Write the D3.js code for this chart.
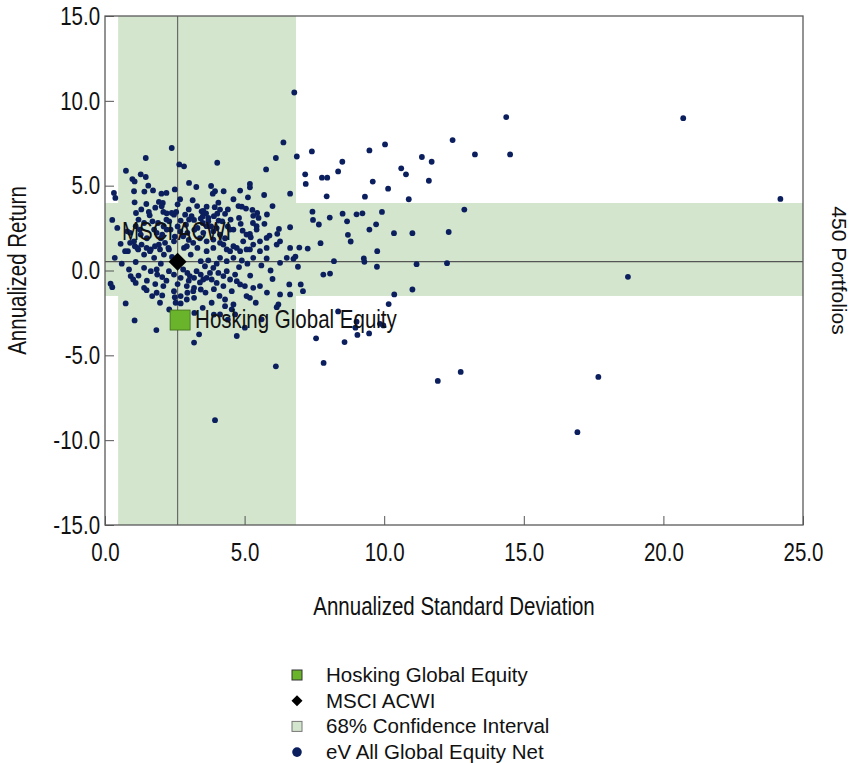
<!DOCTYPE html>
<html><head><meta charset="utf-8">
<script src="https://cdn.jsdelivr.net/npm/d3@7"></script>
<style>body{margin:0;background:#fff}svg{display:block}</style>
</head><body>
<svg id="chart" width="850" height="763"></svg>
<script>
const xTicks = [0, 5, 10, 15, 20, 25];
const yTicks = [-15, -10, -5, 0, 5, 10, 15];
const ciStdDev = [0.47, 6.84];
const ciReturn = [-1.5, 3.98];
const benchmark = { name: "MSCI ACWI", sd: 2.6, ret: 0.52 };
const manager = { name: "Hosking Global Equity", sd: 2.69, ret: -2.92 };
const legendLabels = ["Hosking Global Equity", "MSCI ACWI", "68% Confidence Interval", "eV All Global Equity Net"];
const universeLabel = "450 Portfolios";
const xTitle = "Annualized Standard Deviation";
const yTitle = "Annualized Return";
const peerPoints = [
[14.37,9.04],[20.71,8.98],[10.03,7.43],[12.45,7.69],[11.35,6.69],[11.70,6.41],[13.25,6.84],[14.51,6.84],[10.61,6.02],[10.78,5.67],[11.60,5.29],[10.14,4.82],[10.88,4.20],[24.19,4.22],[9.92,3.45],[12.87,3.59],[10.35,2.20],[11.01,2.20],[12.31,2.27],[11.16,0.37],[12.25,0.43],[18.73,-0.37],[11.01,-1.12],[10.36,-1.41],[10.16,-1.98],[9.97,-3.24],[11.92,-6.51],[12.74,-5.98],[17.67,-6.27],[16.92,-9.53],
[6.78,10.49],[6.87,6.72],[7.41,7.02],[7.17,5.67],[7.19,5.10],[7.77,5.47],[7.96,5.47],[7.94,4.37],[8.35,5.84],[8.50,6.41],[9.47,7.08],[9.59,5.24],[9.31,4.35],[6.63,4.53],
[7.43,3.47],[7.45,2.98],[7.66,2.71],[8.05,3.12],[8.51,3.35],[8.67,2.90],[9.01,3.31],[9.22,3.37],[9.71,2.72],[9.47,2.41],[8.70,2.10],[6.63,2.55],
[6.96,1.35],[7.26,1.29],[7.72,1.61],[8.80,1.71],[9.75,1.14],[6.75,0.69],[6.82,0.82],[6.91,0.22],[8.20,0.55],[9.27,0.71],[9.29,0.51],[9.74,0.22],[7.82,-0.24],[8.06,-0.18],[7.01,-0.82],[7.09,-1.22],[6.63,-1.41],[8.35,-2.41],[9.01,-3.02],[8.97,-3.37],[9.04,-3.80],[9.46,-3.71],[9.85,-3.14],[7.56,-4.00],[8.58,-4.22],[7.83,-5.45],
[2.39,7.22],[1.46,6.63],[2.66,6.25],[2.83,6.14],[0.75,5.88],[1.28,5.67],[1.46,5.51],[0.98,5.39],[1.06,5.25],[1.55,5.00],[3.01,5.16],[3.27,4.92],[1.72,4.72],[1.04,4.67],[1.41,4.65],[2.02,4.53],[2.20,4.57],[2.50,4.78],[0.32,4.57],[0.37,4.28],[2.69,4.20],[3.14,4.14],[1.93,4.04],[2.07,3.98],[1.06,4.02],[1.48,3.92],[1.57,3.45],[1.60,3.25],[1.11,3.39],[2.09,3.45],[2.21,3.37],[2.47,3.29],[2.55,3.45],[2.87,3.29],[3.46,3.49],[0.26,2.98],[2.71,2.94],[3.01,3.00],[3.19,2.98],[3.43,3.06],
[6.39,7.55],[6.12,6.63],[4.02,6.35],[5.77,5.96],[5.19,5.10],[5.19,4.90],[3.80,4.98],[3.94,4.67],[3.86,4.53],[4.25,4.67],[4.84,4.71],[5.12,4.31],[4.06,4.00],[3.64,3.76],[3.93,3.73],[4.12,3.59],[3.52,3.51],[3.62,3.37],[4.02,3.35],[4.30,3.34],[4.78,3.80],[4.90,3.76],[5.05,3.65],[5.28,3.57],[5.45,3.39],[5.31,3.22],[5.50,3.10],[5.71,2.75],[6.23,2.45],[6.17,2.16],[5.89,2.06],[4.86,2.75],[4.60,2.41],[4.93,2.35],[5.19,2.16],[5.22,1.96],[4.07,2.94],[3.50,3.19],[5.70,4.45],
[0.35,0.75],[0.56,1.57],[0.82,1.14],[1.04,1.72],[1.16,1.33],[1.40,0.94],[1.64,1.24],[1.76,0.75],[1.93,1.53],[2.11,0.94],[2.29,1.24],[2.47,1.72],[2.83,1.33],[3.07,0.94],[3.31,1.33],[3.43,0.55],[0.86,0.06],[0.92,-0.33],[1.10,-0.73],[1.40,0.16],[1.64,-0.04],[1.87,-0.24],[2.05,-0.39],[2.29,-0.04],[2.47,-0.24],[2.71,-0.43],[2.95,-0.14],[3.19,-0.43],[3.43,-0.24],[0.20,-0.78],[0.26,-0.98],[1.40,-1.02],[1.49,-1.16],[1.69,-1.51],[2.05,-1.47],[1.97,-1.90],[2.47,-1.22],[2.50,-1.57],[2.71,-1.51],[2.95,-1.31],[2.93,-1.71],[3.19,-1.02],[3.43,-1.12],[3.19,-1.61],[2.53,-1.90],[2.71,-1.94],[0.74,-1.94],[1.06,-2.94],[1.84,-3.51],[3.19,-4.25],[3.37,-3.76],
[3.64,1.72],[3.88,1.33],[4.24,1.53],[4.48,1.14],[4.72,1.33],[4.95,1.72],[5.19,1.24],[5.55,1.72],[5.79,1.33],[6.27,1.72],[6.63,1.33],[4.12,0.75],[4.36,0.55],[4.60,0.75],[4.90,0.59],[5.31,0.75],[5.79,0.71],[6.27,0.45],[6.51,0.75],[3.58,0.25],[3.88,0.16],[4.06,-0.14],[4.36,-0.04],[5.93,0.00],[3.64,-0.43],[3.82,-0.53],[4.24,-0.92],[4.54,-1.22],[4.66,-0.24],[4.72,-0.63],[4.84,-0.82],[5.01,-0.92],[5.31,-1.02],[5.55,-0.92],[5.07,-1.51],[5.19,-1.61],[4.30,-1.71],[6.27,-1.41],[6.60,-0.82],[6.21,-2.00],[6.15,-2.16],[3.82,-1.90],[4.30,-2.10],[4.60,-2.00],[4.54,-2.29],[4.66,-2.59],[4.12,-2.59],[4.72,-3.86],[5.01,-3.37],[5.61,-2.88],
[3.94,-8.82],[6.12,-5.65],
[2.03,3.78],[2.39,3.39],[0.90,1.63],[1.07,1.43],[1.19,1.24],[1.31,1.53],[1.49,1.33],[1.61,1.14],[1.79,1.43],[1.97,1.24],[2.15,1.63],[2.27,1.33],[0.72,1.14],
[2.93,1.43],[3.16,1.63],[3.64,1.14],[4.12,1.63],[4.36,1.24],[4.60,1.43],[4.84,1.14],[5.07,1.24],[5.31,1.53],[5.55,1.14],[6.15,1.53],
[1.85,2.22],[2.21,2.41],[2.80,2.02],[3.52,2.22],[3.88,1.82],[4.48,2.41],[5.07,2.12],[5.43,2.41],[5.79,1.92],[0.90,2.22],[1.25,2.41],
[1.85,0.06],[2.80,0.06],[3.04,-0.33],[3.28,-0.04],[3.52,-0.53],[3.76,-0.14],[4.00,-0.73],[4.24,-0.33],[4.48,-0.53],[2.93,-0.92],[3.16,-1.22],[2.09,-0.92],[1.85,-1.31],[1.01,-0.53],
[0.44,2.51],[0.80,2.31],[1.10,2.61],[1.28,2.12],[1.76,2.41],[2.05,2.12],[2.35,2.41],[2.95,2.22],[3.31,2.51],[3.64,2.61],[3.88,2.31],[4.12,2.12],[5.43,2.61],
[1.90,2.80],[2.30,2.90],[2.60,2.60],[2.90,2.70],[3.20,2.40],[3.50,2.80],[3.80,2.60],[4.20,2.90],[4.50,3.00],[1.70,2.90],[2.50,2.00],[3.00,1.80],[3.40,1.90],[2.00,1.90],[1.50,1.90],[4.30,1.90],[3.70,3.10],[2.20,3.00],
[1.30,3.60],[1.80,3.70],[2.60,3.90],[3.00,3.60],[3.30,3.80],[3.90,3.20],[4.40,3.60],[4.60,4.20],[1.20,3.00],[1.40,2.80],[2.10,2.60],[2.70,2.30],[3.10,3.20],[3.70,2.90],[4.00,2.50],[4.40,2.60],[4.80,3.10],[5.30,2.80],[5.80,3.30],[6.00,3.80],
[1.20,-0.30],[1.50,-0.60],[1.80,-0.80],[2.20,-0.60],[2.60,-0.80],[3.00,-0.60],[3.40,-0.70],[3.60,-1.30],[3.90,-1.10],[4.10,-1.50],[3.50,-2.20],[3.90,-2.60],[4.40,-2.90],[5.40,-1.90],[5.80,-1.30],[6.00,-0.50],[5.20,-0.30],[5.60,0.30],[3.20,-2.50],[2.30,-2.30],
[0.60,0.40],[1.10,0.50],[2.00,0.40],[2.40,0.80],[3.70,0.60],[4.00,0.40],[4.80,0.20],[5.10,0.40]
];

const L = 105, R = 803, T = 16, B = 525;
const NARROW = 0.82;
const FONT = "'Liberation Sans', Arial, sans-serif";
const x = d3.scaleLinear().domain([0, 25]).range([L, R]);
const y = d3.scaleLinear().domain([-15, 15]).range([B, T]);
const svg = d3.select("#chart").style("font-family", FONT);
const band = "#d3e5cd", navy = "#0b1f5e", green = "#6ab42c";
const fmt = d => d.toFixed(1);

// confidence bands
svg.append("rect").attr("x", x(ciStdDev[0])).attr("y", T)
  .attr("width", x(ciStdDev[1]) - x(ciStdDev[0])).attr("height", B - T).attr("fill", band);
svg.append("rect").attr("x", L).attr("y", y(ciReturn[1]))
  .attr("width", R - L).attr("height", y(ciReturn[0]) - y(ciReturn[1])).attr("fill", band);

// benchmark crosshair
svg.append("line").attr("x1", x(benchmark.sd)).attr("x2", x(benchmark.sd)).attr("y1", T).attr("y2", B)
  .attr("stroke", "#6b6b6b").attr("stroke-width", 1.2);
svg.append("line").attr("x1", L).attr("x2", R).attr("y1", y(benchmark.ret)).attr("y2", y(benchmark.ret))
  .attr("stroke", "#555").attr("stroke-width", 1.2);

// peers
svg.append("g").selectAll("circle").data(peerPoints).join("circle")
  .attr("cx", d => x(d[0])).attr("cy", d => y(d[1])).attr("r", 2.9).attr("fill", navy);

// axes
const xAxis = svg.append("g").attr("transform", `translate(0,${B})`)
  .call(d3.axisBottom(x).tickValues(xTicks).tickSizeInner(-9).tickSizeOuter(0).tickPadding(18).tickFormat(fmt));
const yAxis = svg.append("g").attr("transform", `translate(${L},0)`)
  .call(d3.axisLeft(y).tickValues(yTicks).tickSizeInner(-9).tickSizeOuter(0).tickPadding(6).tickFormat(fmt));
[xAxis, yAxis].forEach(g => {
  g.select(".domain").remove();
  g.selectAll(".tick line").attr("stroke", "#555");
  g.selectAll(".tick text").attr("font-size", 25).attr("font-family", FONT).attr("fill", "#111")
    .attr("transform", `scale(${NARROW},1)`);
});
yAxis.selectAll(".tick text").attr("dy", "0.33em");

// frame
svg.append("rect").attr("x", L).attr("y", T).attr("width", R - L).attr("height", B - T)
  .attr("fill", "none").attr("stroke", "#5a5a5a").attr("stroke-width", 1.3);

// manager & benchmark markers
const ds = 9;
svg.append("path").attr("d", `M0,${-ds}L${ds},0L0,${ds}L${-ds},0Z`)
  .attr("transform", `translate(${x(benchmark.sd)},${y(benchmark.ret)})`).attr("fill", "#000");
svg.append("rect").attr("x", x(manager.sd) - 10).attr("y", y(manager.ret) - 10).attr("width", 20).attr("height", 20)
  .attr("fill", green).attr("stroke", "#3d6b1a").attr("stroke-width", 0.8);

// point labels
svg.append("text").text(benchmark.name).attr("text-anchor", "middle").attr("font-size", 25).attr("fill", "#111")
  .attr("transform", `translate(${x(benchmark.sd) - 1},${y(benchmark.ret) - 22}) scale(${NARROW},1)`);
svg.append("text").text(manager.name).attr("font-size", 25).attr("fill", "#111")
  .attr("transform", `translate(${x(manager.sd) + 15},${y(manager.ret) + 8}) scale(${NARROW},1)`);

// titles
svg.append("text").text(xTitle).attr("text-anchor", "middle").attr("font-size", 25).attr("fill", "#111")
  .attr("transform", `translate(${(L + R) / 2},615) scale(${NARROW},1)`);
svg.append("text").text(yTitle).attr("text-anchor", "middle").attr("font-size", 25).attr("fill", "#111")
  .attr("transform", `translate(26,${(T + B) / 2}) rotate(-90) scale(${NARROW},1)`);
svg.append("text").text(universeLabel).attr("text-anchor", "middle").attr("font-size", 21).attr("fill", "#111")
  .attr("transform", `translate(832,${(T + B) / 2}) rotate(90)`);

// legend
const lg = svg.append("g");
const lx = 297, ly0 = 675, ldy = 25.7;
legendLabels.forEach((lab, i) => {
  const cy = ly0 + i * ldy;
  if (i === 0) lg.append("rect").attr("x", lx - 5).attr("y", cy - 5).attr("width", 10).attr("height", 10)
    .attr("fill", green).attr("stroke", "#333").attr("stroke-width", 1);
  if (i === 1) lg.append("path").attr("d", "M0,-5.5L5.5,0L0,5.5L-5.5,0Z").attr("transform", `translate(${lx},${cy})`).attr("fill", "#000");
  if (i === 2) lg.append("rect").attr("x", lx - 5).attr("y", cy - 5).attr("width", 10).attr("height", 10)
    .attr("fill", band).attr("stroke", "#777").attr("stroke-width", 1);
  if (i === 3) lg.append("circle").attr("cx", lx).attr("cy", cy).attr("r", 4.8).attr("fill", navy);
  lg.append("text").text(lab).attr("x", 326).attr("y", cy + 7).attr("font-size", 20.5).attr("fill", "#111");
});
</script>
</body></html>
